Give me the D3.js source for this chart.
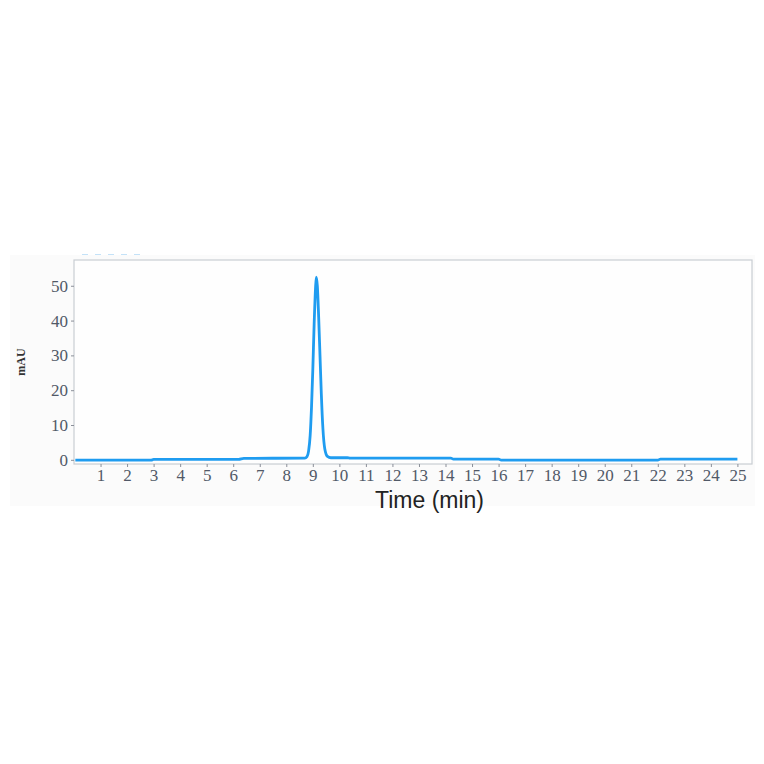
<!DOCTYPE html>
<html>
<head>
<meta charset="utf-8">
<script src="https://cdn.jsdelivr.net/npm/d3@7/dist/d3.min.js"></script>
<style>
  html, body { margin: 0; padding: 0; background: #ffffff; }
  svg { display: block; }
</style>
</head>
<body>
<svg id="chart" width="764" height="764"></svg>
<script>
// ---- data ----
const times  = [0.05, 2.9, 3.0, 6.2, 6.4, 8.70, 8.78, 8.84, 8.90, 8.95, 9.00, 9.05, 9.10, 9.13, 9.17, 9.22, 9.27, 9.32, 9.38, 9.45, 9.55, 9.68, 10.3, 10.4, 14.2, 14.3, 16.0, 16.1, 22.0, 22.1, 25.0];
const values = [-0.1, -0.1, 0.1, 0.1, 0.4, 0.5, 0.9, 2.5, 7, 15, 26, 39, 49, 52.5, 50, 41, 30, 19, 9, 3.2, 1.0, 0.6, 0.6, 0.5, 0.5, 0.2, 0.2, -0.1, -0.1, 0.2, 0.2];
const xTicks = [1,2,3,4,5,6,7,8,9,10,11,12,13,14,15,16,17,18,19,20,21,22,23,24,25];
const yTicks = [0,10,20,30,40,50];
const xTitle = "Time (min)";
const yTitle = "mAU";

const svg = d3.select("#chart");
const L = 74, R = 752, T = 260, B = 464;

// faint backdrop
svg.append("rect").attr("x",10).attr("y",255).attr("width",745).attr("height",251).attr("fill","#fbfbfb");
// faint remnant legend dash
svg.append("line").attr("x1",82).attr("x2",144).attr("y1",254.5).attr("y2",254.5)
  .attr("stroke","#c4e2f8").attr("stroke-width",1.2).attr("stroke-dasharray","6,7");

const x = d3.scaleLinear().domain([0, 25.55]).range([L, R]);
const y = d3.scaleLinear().domain([-1.2, 57.4]).range([B, T]);

svg.append("rect").attr("x",L).attr("y",T).attr("width",R-L).attr("height",B-T)
  .attr("fill","#fefefe").attr("stroke","#c9cdd3").attr("stroke-width",1.2);

const gx = svg.append("g").attr("transform",`translate(0,${B})`)
  .call(d3.axisBottom(x).tickValues(xTicks).tickSize(3).tickPadding(3).tickFormat(d3.format("d")));
const gy = svg.append("g").attr("transform",`translate(${L},0)`)
  .call(d3.axisLeft(y).tickValues(yTicks).tickSize(3).tickPadding(3).tickFormat(d3.format("d")));
[gx, gy].forEach(g => {
  g.select(".domain").remove();
  g.selectAll(".tick line").attr("stroke","#8a8f99");
  g.selectAll(".tick text").attr("fill","#515967")
    .style("font-family","'Liberation Serif', serif").style("font-size","17px");
});
gx.selectAll(".tick text").attr("dy","0.62em");

const pts = times.map((t,i)=>[t, values[i]]);
svg.append("path").datum(pts)
  .attr("fill","none").attr("stroke","#1f9cf0").attr("stroke-width",2.8)
  .attr("stroke-linejoin","round")
  .attr("d", d3.line().x(d=>x(d[0])).y(d=>y(d[1])).curve(d3.curveMonotoneX));

svg.append("text").attr("x",429.5).attr("y",508).attr("text-anchor","middle")
  .style("font-family","'Liberation Sans', Arial, sans-serif").style("font-size","23px")
  .attr("fill","#222").text(xTitle);

svg.append("text").attr("transform","translate(25,362) rotate(-90)").attr("text-anchor","middle")
  .style("font-family","'Liberation Serif', serif").style("font-size","12px").style("font-weight","bold")
  .attr("fill","#333").text(yTitle);
</script>
</body>
</html>
